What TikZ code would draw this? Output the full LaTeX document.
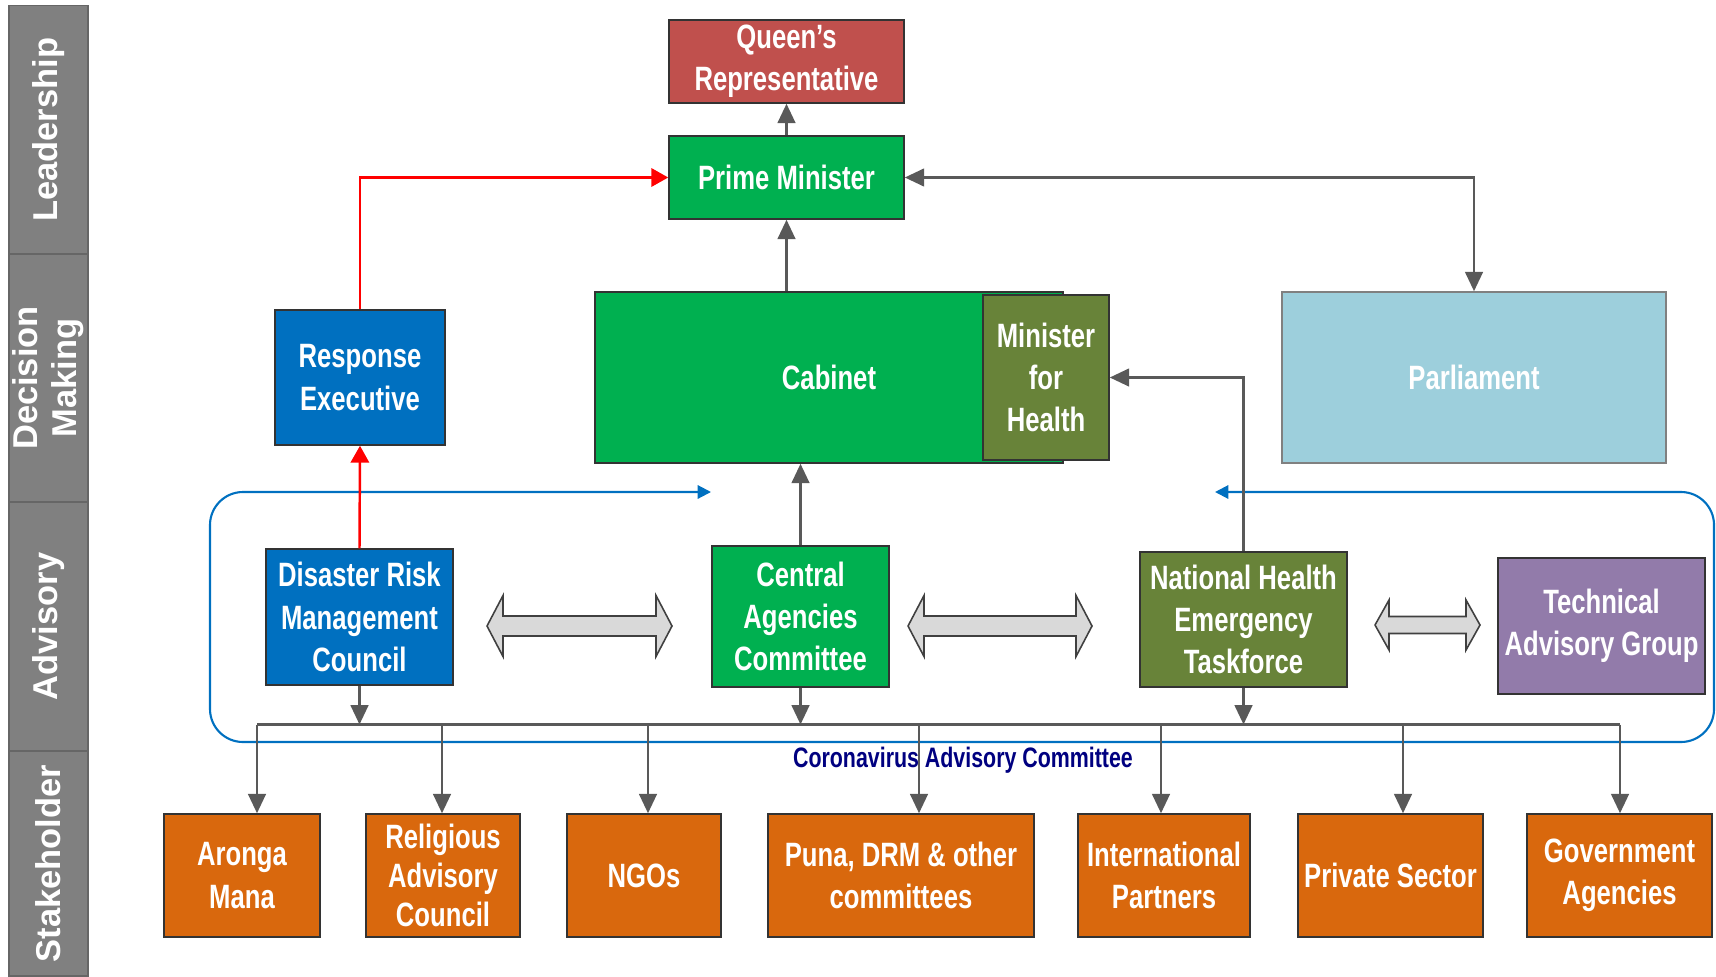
\documentclass[tikz,border=0pt]{standalone}
\usepackage{fontspec}
\setmainfont{Liberation Sans}
\newfontfamily\narrowfont{Liberation Sans}[FakeStretch=0.76]
\usetikzlibrary{arrows.meta}

\definecolor{qrred}{RGB}{192,80,77}
\definecolor{govgreen}{RGB}{0,176,80}
\definecolor{healthgreen}{RGB}{104,131,57}
\definecolor{parlblue}{RGB}{157,207,220}
\definecolor{drmblue}{RGB}{0,112,192}
\definecolor{tagpurple}{RGB}{146,123,170}
\definecolor{stakeorange}{RGB}{217,104,13}
\definecolor{bandgray}{RGB}{128,128,128}
\definecolor{linegray}{RGB}{89,89,89}
\definecolor{cvnavy}{RGB}{0,0,128}

\tikzset{
    box/.style={draw=black!80, line width=0.4pt, text=white, align=center, inner sep=0pt,
        font=\narrowfont\bfseries\fontsize{9.6}{12}\selectfont},
    stake/.style={box, fill=stakeorange, minimum height=1.23cm},
    band/.style={draw=black!60, fill=bandgray, text=white, rotate=90, align=center, inner sep=0pt,
        minimum height=0.79cm, font=\bfseries\fontsize{9.8}{11}\selectfont},
    link/.style={draw=linegray, line width=0.75pt, -{Triangle[length=5.5pt,width=5pt]}},
    redlink/.style={draw=red, line width=0.7pt, -{Triangle[length=4.8pt,width=5.2pt]}},
    frame/.style={draw=drmblue, line width=0.6pt, rounded corners=0.33cm,
        {Triangle[length=3.8pt,width=3.8pt]}-{Triangle[length=3.8pt,width=3.8pt]}},
    twoway/.style={draw=black!75, fill=gray!30, line width=0.45pt}
}

\begin{document}
\begin{tikzpicture}[x=0.01cm, y=-0.01cm]
            \useasboundingbox (0,0) rectangle (1716,976);

            \node[band, minimum width=2.485cm] (lead) at (48.5,129.75) {Leadership};
            \node[band, minimum width=2.48cm] (dm) at (48.5,378) {Decision\\Making};
            \node[band, minimum width=2.49cm] (adv) at (48.5,626.5) {Advisory};
            \node[band, minimum width=2.25cm] (stk) at (48.5,863.5) {Stakeholder};

            \draw[frame] (1215,492) -- (1714,492) -- (1714,742) -- (210,742) -- (210,492) -- (711,492);
            \node[font=\narrowfont\bfseries\fontsize{8}{9}\selectfont, text=cvnavy] (cvlabel) at (963,760) {Coronavirus Advisory Committee};

            \node[box, fill=qrred, minimum width=2.35cm, minimum height=0.83cm] (qr) at (786.5,61.5) {Queen’s\\Representative};
            \node[box, fill=govgreen, minimum width=2.35cm, minimum height=0.83cm] (pm) at (786.5,177.5) {Prime Minister};
            \node[box, fill=govgreen, minimum width=4.68cm, minimum height=1.71cm] (cab) at (829,377.5) {Cabinet};
            \node[box, fill=healthgreen, minimum width=1.26cm, minimum height=1.65cm] (mfh) at (1046,377.5) {Minister\\for\\Health};
            \node[box, fill=parlblue, draw=black!50, minimum width=3.84cm, minimum height=1.71cm] (parl) at (1474,377.5) {Parliament};
            \node[box, fill=drmblue, minimum width=1.70cm, minimum height=1.35cm] (re) at (360,377.5) {Response\\Executive};

            \node[box, fill=drmblue, minimum width=1.87cm, minimum height=1.36cm] (drmc) at (359.5,617) {Disaster Risk\\Management\\Council};
            \node[box, fill=govgreen, minimum width=1.77cm, minimum height=1.41cm] (cac) at (800.5,616.5) {Central\\Agencies\\Committee};
            \node[box, fill=healthgreen, minimum width=2.07cm, minimum height=1.35cm] (nhet) at (1243.5,619.5) {National Health\\Emergency\\Taskforce};
            \node[box, fill=tagpurple, minimum width=2.07cm, minimum height=1.36cm] (tag) at (1601.5,626) {Technical\\Advisory Group};

            \node[stake, minimum width=1.56cm] (am) at (242,875.5) {Aronga\\Mana};
            \node[stake, minimum width=1.54cm, font=\narrowfont\bfseries\fontsize{9.6}{11}\selectfont] (rac) at (443,875.5) {Religious\\Advisory\\Council};
            \node[stake, minimum width=1.54cm] (ngo) at (644,875.5) {NGOs};
            \node[stake, minimum width=2.66cm] (puna) at (901,875.5) {Puna, DRM \& other\\committees};
            \node[stake, minimum width=1.72cm] (ip) at (1164,875.5) {International\\Partners};
            \node[stake, minimum width=1.85cm] (ps) at (1390.5,875.5) {Private Sector};
            \node[stake, minimum width=1.85cm] (ga) at (1619.5,875.5) {Government\\Agencies};

            \coordinate (da1) at (579.5,626);
            \coordinate (da2) at (1000,626);
            \coordinate (da3) at (1427.5,625);
            \draw[twoway] (da1) ++(-92.5,0) -- ++(16,-30.5) -- ++(0,20.5) -- ++(153,0) -- ++(0,-20.5) -- ++(16,30.5) -- ++(-16,30.5) -- ++(0,-20.5) -- ++(-153,0) -- ++(0,20.5) -- cycle;
            \draw[twoway] (da2) ++(-92,0) -- ++(16,-30.5) -- ++(0,20.5) -- ++(152,0) -- ++(0,-20.5) -- ++(16,30.5) -- ++(-16,30.5) -- ++(0,-20.5) -- ++(-152,0) -- ++(0,20.5) -- cycle;
            \draw[twoway] (da3) ++(-52.5,0) -- ++(14,-25) -- ++(0,16.5) -- ++(77,0) -- ++(0,-16.5) -- ++(14,25) -- ++(-14,25) -- ++(0,-16.5) -- ++(-77,0) -- ++(0,16.5) -- cycle;

            \draw[redlink] (re.north) |- (pm.west);
            \draw[redlink] (drmc.north) -- (re.south);
            \draw[link] (pm.north) -- (qr.south);
            \draw[link] (pm.south |- cab.north) -- (pm.south);
            \draw[link] (cac.north) -- (cac.north |- cab.south);
            \draw[link, {Triangle[length=5.5pt,width=5pt]}-{Triangle[length=5.5pt,width=5pt]}] (pm.east) -| (parl.north);
            \draw[link] (nhet.north) |- (mfh.east);

            \coordinate (bus1) at (257,724.5);
            \coordinate (bus2) at (442,724.5);
            \coordinate (bus3) at (648,724.5);
            \coordinate (bus4) at (919,724.5);
            \coordinate (bus5) at (1161,724.5);
            \coordinate (bus6) at (1403,724.5);
            \coordinate (bus7) at (1620,724.5);
            \draw[draw=linegray, line width=0.75pt] (bus1) -- (bus7);
            \draw[link] (drmc.south) -- (drmc.south |- bus1);
            \draw[link] (cac.south) -- (cac.south |- bus1);
            \draw[link] (nhet.south) -- (nhet.south |- bus1);
            \draw[link] (bus1) -- (bus1 |- am.north);
            \draw[link] (bus2) -- (bus2 |- rac.north);
            \draw[link] (bus3) -- (bus3 |- ngo.north);
            \draw[link] (bus4) -- (bus4 |- puna.north);
            \draw[link] (bus5) -- (bus5 |- ip.north);
            \draw[link] (bus6) -- (bus6 |- ps.north);
            \draw[link] (bus7) -- (bus7 |- ga.north);
\end{tikzpicture}
\end{document}
